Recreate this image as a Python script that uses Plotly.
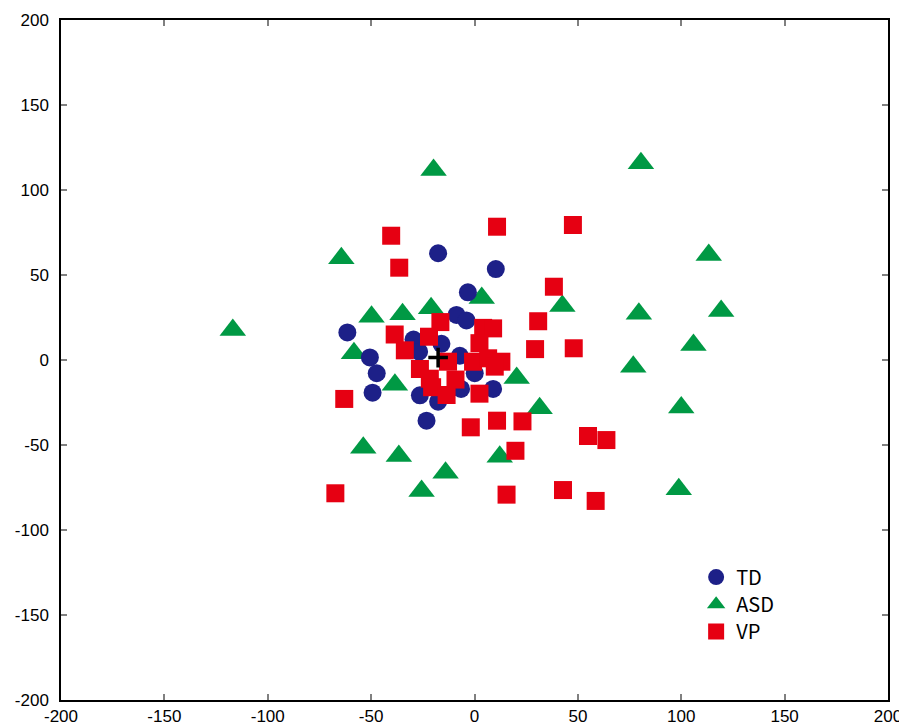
import plotly.graph_objects as go

# TD (circles)
td_x = [-17.6, 10.3, -3.2, -61.5, -8.7, -3.9, -29.5, -16.0, -26.8, -50.6, -47.3, -49.3,
        -7.1, 0.1, 9.0, -6.5, -26.4, -17.6, -23.2]
td_y = [62.8, 53.5, 39.8, 16.2, 26.5, 23.3, 12.0, 9.5, 4.9, 1.5, -7.8, -19.2,
        2.5, -7.8, -17.0, -17.0, -20.8, -24.5, -35.7]

# ASD (triangles)
asd_x = [-116.9, -64.4, -19.8, 80.5, 113.3, 119.3, 79.5, 105.9, 76.8, 100.0, 98.8,
         42.5, 3.5, -49.8, -34.8, -21.0, -58.3, -38.5, 20.4, 31.5, -53.8, -36.6,
         -25.6, -14.0, 12.2]
asd_y = [17.6, 59.8, 111.8, 115.7, 61.8, 28.8, 27.2, 8.8, -3.9, -28.0, -76.0,
         31.8, 36.5, 25.5, 26.9, 30.5, 3.9, -14.5, -10.6, -28.4, -51.6, -56.5,
         -77.1, -66.3, -56.9]

# VP (squares)
vp_x = [-40.3, 10.9, 47.6, -36.4, 38.4, -38.6, -33.7, -16.5, -22.0, 4.2, 9.0, 30.8,
        29.3, 48.0, 2.4, -0.7, 6.6, 13.0, 9.8, -12.8, -26.4, -21.6, -9.2, -20.5,
        -13.5, 2.4, -63.0, 10.9, 23.2, -1.8, 19.8, 54.9, 63.8, -67.3, 15.5, 42.8, 58.6]
vp_y = [73.1, 78.4, 79.4, 54.3, 43.1, 15.0, 5.7, 22.3, 13.7, 18.9, 18.6, 22.8,
        6.4, 6.9, 9.9, -1.0, 1.0, -1.0, -3.9, -1.0, -5.3, -11.0, -11.5, -16.0,
        -20.6, -19.8, -22.9, -35.7, -36.1, -39.6, -53.4, -44.7, -47.1, -78.4, -79.2, -76.5, -82.9]

# centroid marker
center_x = [-17.6]
center_y = [1.4]

x_ticks = [-200, -150, -100, -50, 0, 50, 100, 150, 200]
y_ticks = [-200, -150, -100, -50, 0, 50, 100, 150, 200]

BLUE = "#1d2088"
GREEN = "#009944"
RED = "#e60012"

fig = go.Figure()
fig.add_trace(go.Scatter(x=asd_x, y=asd_y, mode="markers", name="ASD", legend="legend2",
                         marker=dict(symbol="triangle-up", size=23, color=GREEN, line=dict(width=0))))
fig.add_trace(go.Scatter(x=td_x, y=td_y, mode="markers", name="TD", legend="legend",
                         marker=dict(symbol="circle", size=18, color=BLUE, line=dict(width=0))))
fig.add_trace(go.Scatter(x=vp_x, y=vp_y, mode="markers", name="VP", legend="legend3",
                         marker=dict(symbol="square", size=18, color=RED, line=dict(width=0))))
fig.add_trace(go.Scatter(x=center_x, y=center_y, mode="markers", showlegend=False,
                         marker=dict(symbol="cross-thin", size=14, color="black",
                                     line=dict(width=3.5, color="black"))))

axis_common = dict(
    showgrid=False, zeroline=False, showline=True, linecolor="black", linewidth=1.5,
    mirror="ticks", ticks="inside", ticklen=6, tickcolor="#808080", tickwidth=1.5,
    automargin=False,
    tickfont=dict(family="Liberation Sans", size=17, color="black"),
)
fig.update_xaxes(range=[-200, 200], tickvals=x_ticks, ticktext=[str(v) for v in x_ticks],
                 ticklabelstandoff=0, **axis_common)
fig.update_yaxes(range=[-200, 200], tickvals=y_ticks, ticktext=[str(v) for v in y_ticks],
                 ticklabelstandoff=7, **axis_common)

leg_font = dict(family="Noto Sans CJK JP, Noto Sans, sans-serif", size=20, color="black")
leg_common = dict(xanchor="left", yanchor="top", bgcolor="rgba(0,0,0,0)", font=leg_font,
                  itemsizing="trace")
fig.update_layout(
    width=899, height=718,
    margin=dict(l=53, r=19, t=12, b=26),
    plot_bgcolor="white", paper_bgcolor="white",
    legend=dict(x=0.768, y=0.2095, **leg_common),
    legend2=dict(x=0.768, y=0.1695, **leg_common),
    legend3=dict(x=0.768, y=0.1295, **leg_common),
)

fig.write_html("out.html")
